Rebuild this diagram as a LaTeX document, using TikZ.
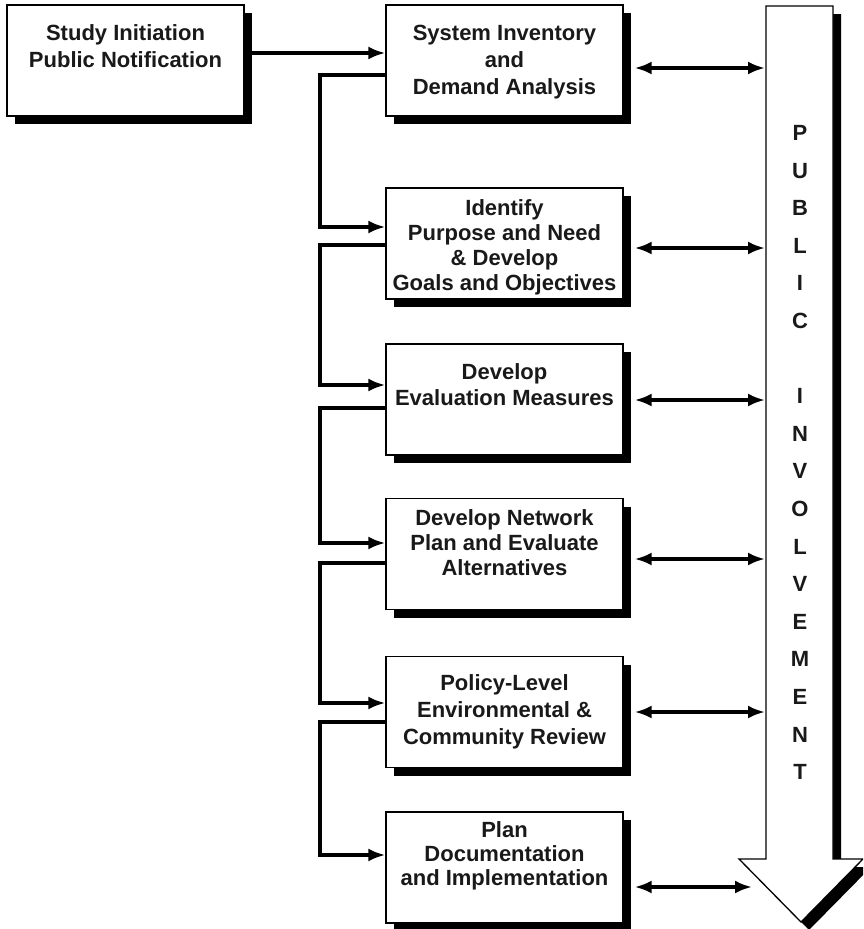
\documentclass[tikz,border=0pt]{standalone}
\usepackage{fontspec}
\setmainfont{Liberation Sans}
\usetikzlibrary{arrows.meta,calc,shadows}
\begin{document}
\begin{tikzpicture}[x=1pt,y=-1pt,
  box/.style={draw=black, line width=1.3pt, fill=white, minimum width=237pt, minimum height=111pt, inner sep=0pt,
    drop shadow={shadow xshift=8pt, shadow yshift=-8pt, opacity=1, fill=black}},
  txt/.style={font=\bfseries\fontsize{22}{25}\selectfont, align=center, inner sep=0pt, text=black!90},
  wide/.style={font=\bfseries\fontsize{22}{27}\selectfont},
  conn/.style={line width=3.3pt},
  arr/.style={conn, -{Latex[length=17pt,width=13pt]}},
  dbl/.style={conn, {Latex[length=17pt,width=13pt]}-{Latex[length=17pt,width=13pt]}}]
\useasboundingbox (0,0) rectangle (863,929);
\clip (0,0) rectangle (863,929);

% public involvement arrow
\fill[black] (774,14) -- (841,14) -- (841,867) -- (871,867) -- (809,930) -- (747,867) -- (774,867) -- cycle;
\draw[line width=1.3pt, fill=white] (766,6) -- (833,6) -- (833,859) -- (863,859) -- (801,922) -- (739,859) -- (766,859) -- cycle;
\coordinate (colL) at (766,6);
\node[txt, font=\bfseries\fontsize{22}{37.6}\selectfont] (pi) at (800,452.5)
  {P\\U\\B\\L\\I\\C\\~\\I\\N\\V\\O\\L\\V\\E\\M\\E\\N\\T};

% boxes
\node[box] (s)  at (125.5,60.5) {};
\node[box] (b1) at (504.5,60.5) {};
\node[box] (b2) at (504.5,243.5) {};
\node[box] (b3) at (504.5,399.5) {};
\node[box] (b4) at (504.5,554) {};
\node[box] (b5) at (504.5,712) {};
\node[box] (b6) at (504.5,867.5) {};

% texts
\node[txt, wide] (ts) at (125.5,46) {Study Initiation\\Public Notification};
\node[txt, wide] (t1) at (504.5,62) {System Inventory\\and\\Demand Analysis};
\node[txt] (t2) at (504.5,247) {Identify\\Purpose and Need\\\& Develop\\Goals and Objectives};
\node[txt, font=\bfseries\fontsize{22}{26}\selectfont] (t3) at (504.5,385) {Develop\\Evaluation Measures};
\node[txt] (t4) at (504.5,542.5) {Develop Network\\Plan and Evaluate\\Alternatives};
\node[txt, wide] (t5) at (504.5,712) {Policy-Level\\Environmental \&\\Community Review};
\node[txt, font=\bfseries\fontsize{22}{24}\selectfont] (t6) at (504.5,856) {Plan\\Documentation\\and Implementation};

% flow connectors
\coordinate (spine) at (320,0);
\path ($(s.east)+(0,-7.5)$) coordinate (a0)
      ($(b1.west)+(0,14.5)$) coordinate (o1)
      ($(b2.west)+(0,-16.5)$) coordinate (i2)
      ($(b2.west)+(0,1.5)$) coordinate (o2)
      ($(b3.west)+(0,-14.5)$) coordinate (i3)
      ($(b3.west)+(0,8.5)$) coordinate (o3)
      ($(b4.west)+(0,-11)$) coordinate (i4)
      ($(b4.west)+(0,9)$) coordinate (o4)
      ($(b5.west)+(0,-9)$) coordinate (i5)
      ($(b5.west)+(0,10)$) coordinate (o5)
      ($(b6.west)+(0,-12.5)$) coordinate (i6);
\draw[arr] (a0) -- (a0 -| b1.west);
\draw[arr] (o1) -- (o1 -| spine) -- (i2 -| spine) -- (i2);
\draw[arr] (o2) -- (o2 -| spine) -- (i3 -| spine) -- (i3);
\draw[arr] (o3) -- (o3 -| spine) -- (i4 -| spine) -- (i4);
\draw[arr] (o4) -- (o4 -| spine) -- (i5 -| spine) -- (i5);
\draw[arr] (o5) -- (o5 -| spine) -- (i6 -| spine) -- (i6);

% public involvement links
\path ($(b1.east)+(11,7.5)$) coordinate (d1)
      ($(b2.east)+(11,4.5)$) coordinate (d2)
      ($(b3.east)+(11,0.5)$) coordinate (d3)
      ($(b4.east)+(11,5)$) coordinate (d4)
      ($(b5.east)+(11,0)$) coordinate (d5)
      ($(b6.east)+(11,19.5)$) coordinate (d6);
\draw[dbl, shorten >=1pt] (d1) -- (d1 -| colL);
\draw[dbl, shorten >=1pt] (d2) -- (d2 -| colL);
\draw[dbl, shorten >=1pt] (d3) -- (d3 -| colL);
\draw[dbl, shorten >=1pt] (d4) -- (d4 -| colL);
\draw[dbl, shorten >=1pt] (d5) -- (d5 -| colL);
\draw[dbl, shorten >=14pt] (d6) -- (d6 -| colL);
\end{tikzpicture}
\end{document}
